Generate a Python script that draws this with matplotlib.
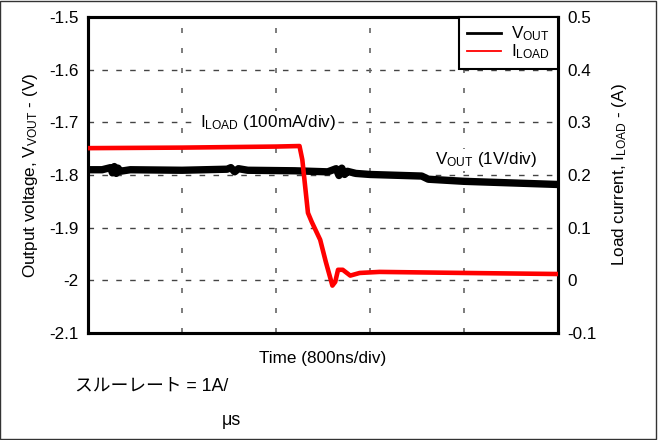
import matplotlib
matplotlib.use("Agg")
import matplotlib.pyplot as plt
from matplotlib.lines import Line2D
from matplotlib.patches import Rectangle

plt.rcParams['font.family'] = ['Liberation Sans', 'Noto Sans CJK JP', 'DejaVu Sans']
plt.rcParams['mathtext.fontset'] = 'custom'
plt.rcParams['mathtext.rm'] = 'Liberation Sans'
plt.rcParams['mathtext.it'] = 'Liberation Sans:italic'

# time in divisions (800 ns/div)
vout_t = [0.0, 0.15, 0.24, 0.26, 0.28, 0.30, 0.32, 0.34, 0.45, 1.0, 1.48, 1.52,
          1.56, 1.60, 1.70, 2.2, 2.55, 2.64, 2.67, 2.70, 2.73, 2.76, 2.85, 3.0,
          3.55, 3.62, 4.0, 4.5, 5.0]
vout_v = [-1.790, -1.790, -1.786, -1.796, -1.784, -1.797, -1.787, -1.793, -1.790, -1.791,
          -1.789, -1.786, -1.794, -1.788, -1.791, -1.792, -1.794, -1.788, -1.801, -1.787,
          -1.799, -1.793, -1.797, -1.799, -1.802, -1.808, -1.812, -1.815, -1.818]

iload_t = [0.0, 1.0, 2.0, 2.25, 2.28, 2.34, 2.38, 2.47, 2.53, 2.60, 2.63, 2.66,
           2.71, 2.79, 2.89, 3.1, 4.0, 5.0]
iload_v = [0.251, 0.252, 0.254, 0.255, 0.229, 0.128, 0.111, 0.077, 0.035, -0.010, -0.003, 0.020,
           0.020, 0.009, 0.014, 0.016, 0.014, 0.012]

left_ticks = [-1.5, -1.6, -1.7, -1.8, -1.9, -2.0, -2.1]
left_labels = ['-1.5', '-1.6', '-1.7', '-1.8', '-1.9', '-2', '-2.1']
right_ticks = [0.5, 0.4, 0.3, 0.2, 0.1, 0.0, -0.1]
right_labels = ['0.5', '0.4', '0.3', '0.2', '0.1', '0', '-0.1']
x_grid = [1, 2, 3, 4]

fs = 12.3

fig = plt.figure(figsize=(6.6, 4.4), dpi=100)
ax = fig.add_axes([88 / 660, 1 - 333 / 440, 470 / 660, 316 / 440])
ax.set_xlim(0, 5)
ax.set_ylim(-2.1, -1.5)
ax.set_xticks(x_grid)
ax.set_xticklabels([])
ax.set_yticks(left_ticks)
ax.set_yticklabels(left_labels, fontsize=fs)
ax.tick_params(length=0, pad=7)

for y in left_ticks[1:-1]:
    ax.axhline(y, color='#444444', lw=1, ls=(0, (4, 6)), zorder=1)
for x in x_grid:
    ax.axvline(x, color='#666666', lw=1.2, ls=(0, (3, 9)), zorder=1)

ax.plot(vout_t, vout_v, color='black', lw=5.3, solid_joinstyle='round', zorder=3)

for s in ax.spines.values():
    s.set_linewidth(2.2)

ax2 = ax.twinx()
ax2.set_ylim(-0.1, 0.5)
ax2.set_yticks(right_ticks)
ax2.set_yticklabels(right_labels, fontsize=fs)
ax2.tick_params(length=0, pad=7)
ax2.plot(iload_t, iload_v, color='#ff0000', lw=3.3, solid_joinstyle='round', zorder=3)
for s in ax2.spines.values():
    s.set_linewidth(2.2)

ax.set_xlabel('Time (800ns/div)', fontsize=fs, labelpad=6)
ax.set_ylabel(r'Output voltage, V$_{\mathrm{VOUT}}$ - (V)', fontsize=fs, labelpad=6)
ax2.set_ylabel(r'Load current, I$_{\mathrm{LOAD}}$ - (A)', fontsize=fs, labelpad=9,
               rotation=90)

box = dict(facecolor='white', edgecolor='none', pad=1)
ax.text(1.19, -1.70, r'I$_{\mathrm{LOAD}}$ (100mA/div)', fontsize=fs, va='center',
        ha='left', bbox=box, zorder=2)
ax.text(3.69, -1.771, r'V$_{\mathrm{OUT}}$ (1V/div)', fontsize=fs, va='center',
        ha='left', bbox=box, zorder=2)

handles = [Line2D([], [], color='black', lw=2), Line2D([], [], color='#ff0000', lw=1.3)]
leg = ax2.legend(handles, [r'V$_{\mathrm{OUT}}$', r'I$_{\mathrm{LOAD}}$'], loc='upper right',
                 borderaxespad=0, fontsize=fs, fancybox=False, framealpha=1,
                 edgecolor='black', handlelength=2.0, labelspacing=-0.05,
                 borderpad=0.45, handletextpad=0.6)
leg.get_frame().set_linewidth(1.5)

fig.text(75 / 660, 1 - 386 / 440, 'スルーレート = 1A/', fontsize=12.8, va='center', ha='left')
fig.text(231 / 660, 1 - 420 / 440, 'μs', fontsize=12.8, va='center', ha='center')

fig.patches.append(Rectangle((0, 0.003), 656 / 660, 0.995, transform=fig.transFigure,
                             fill=False, edgecolor='#333333', lw=1))

fig.savefig('out.png', dpi=100)
